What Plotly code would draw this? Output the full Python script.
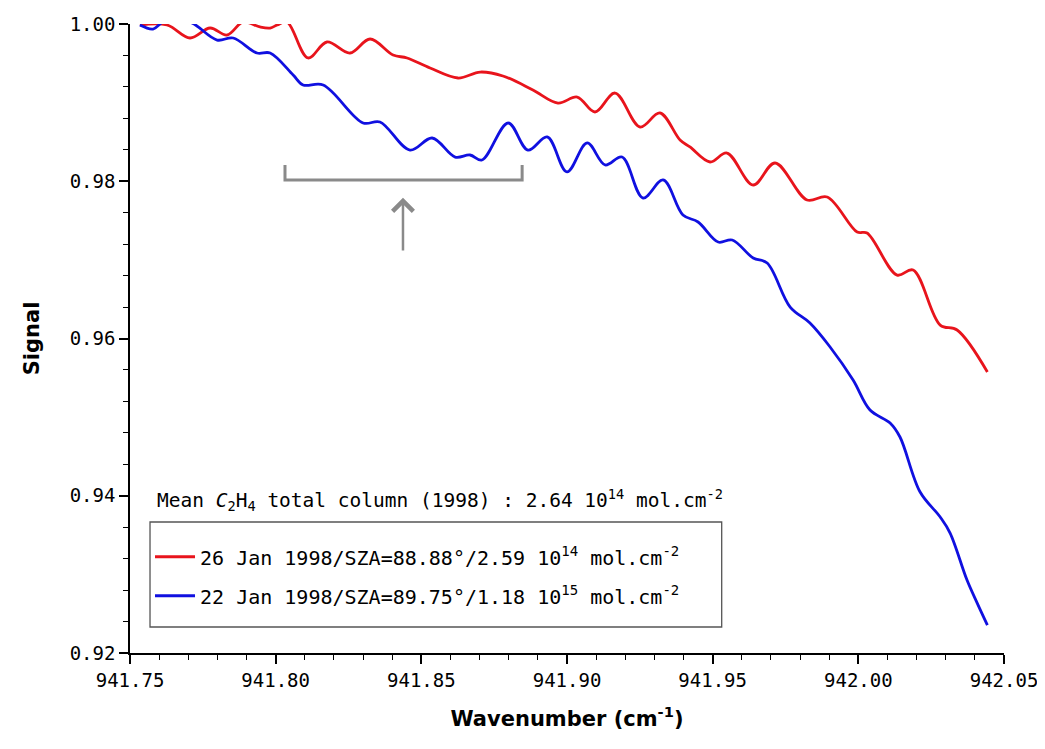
import plotly.graph_objects as go

# ---- data ----
red_x = [941.7534, 941.7627, 941.7706, 941.7775, 941.7833, 941.7888, 941.7946, 941.7981,
         941.8005, 941.8039, 941.8111, 941.8176, 941.8255, 941.8324, 941.8403, 941.8451,
         941.8530, 941.8626, 941.8702, 941.8780, 941.8883, 941.8969, 941.9035, 941.9096,
         941.9165, 941.9251, 941.9319, 941.9388, 941.9422, 941.9491, 941.9549, 941.9639,
         941.9714, 941.9824, 941.9893, 941.9996, 942.0030, 942.0133, 942.0188, 942.0281,
         942.0339, 942.0443]
red_y = [0.99987, 0.99987, 0.99822, 0.99949, 0.99860, 1.00025, 0.99962, 0.99949,
         0.99987, 1.00025, 0.99568, 0.99771, 0.99631, 0.99809, 0.99606, 0.99568,
         0.99440, 0.99313, 0.99389, 0.99339, 0.99161, 0.98995, 0.99071, 0.98881,
         0.99122, 0.98690, 0.98868, 0.98525, 0.98436, 0.98245, 0.98359, 0.97952,
         0.98232, 0.97761, 0.97800, 0.97354, 0.97342, 0.96807, 0.96871, 0.96171,
         0.96108, 0.95574]

blue_x = [941.7534, 941.7579, 941.7613, 941.7661, 941.7713, 941.7799, 941.7854, 941.7936,
          941.7981, 941.8060, 941.8094, 941.8163, 941.8300, 941.8358, 941.8461, 941.8537,
          941.8616, 941.8667, 941.8708, 941.8798, 941.8866, 941.8932, 941.9000, 941.9069,
          941.9131, 941.9189, 941.9261, 941.9330, 941.9398, 941.9450, 941.9519, 941.9567,
          941.9639, 941.9687, 941.9766, 941.9834, 941.9903, 941.9982, 942.0040, 942.0109,
          942.0143, 942.0212, 942.0281, 942.0315, 942.0373, 942.0408, 942.0443]
blue_y = [0.99987, 0.99936, 1.00025, 1.00051, 1.00013, 0.99796, 0.99822, 0.99631,
          0.99631, 0.99351, 0.99224, 0.99224, 0.98741, 0.98754, 0.98397, 0.98550,
          0.98308, 0.98334, 0.98270, 0.98741, 0.98397, 0.98563, 0.98118, 0.98487,
          0.98207, 0.98308, 0.97787, 0.98016, 0.97571, 0.97482, 0.97227, 0.97253,
          0.97024, 0.96960, 0.96400, 0.96197, 0.95892, 0.95472, 0.95090, 0.94925,
          0.94747, 0.94047, 0.93729, 0.93526, 0.92928, 0.92635, 0.92355]

red_name = "26 Jan 1998/SZA=88.88°/2.59 10<sup>14</sup> mol.cm<sup>-2</sup>"
blue_name = "22 Jan 1998/SZA=89.75°/1.18 10<sup>15</sup> mol.cm<sup>-2</sup>"
note_text = ("Mean <i>C</i><sub>2</sub>H<sub>4</sub> total column (1998) : "
             "2.64 10<sup>14</sup> mol.cm<sup>-2</sup>")

# bracket / arrow marking the region (data coords)
bracket_x = [941.8032, 941.8846]
bracket_y = [0.98016, 0.98207]
arrow_x = 941.8437
arrow_y = [0.9710, 0.9779]

x_range = [941.75, 942.05]
y_range = [0.92, 1.00]

FONT = "DejaVu Sans Mono"
TITLE_FONT = "DejaVu Sans"

fig = go.Figure()
fig.add_trace(go.Scatter(x=red_x, y=red_y, mode="lines", name=red_name, legendgroup="a",
                         line=dict(color="#e8141c", width=2.8, shape="spline", smoothing=1.0)))
fig.add_trace(go.Scatter(x=blue_x, y=blue_y, mode="lines", name=blue_name, legendgroup="b",
                         line=dict(color="#1010e0", width=2.8, shape="spline", smoothing=1.0)))

# bracket
fig.add_shape(type="path", xref="x", yref="y",
              path=(f"M {bracket_x[0]} {bracket_y[1]} L {bracket_x[0]} {bracket_y[0]} "
                    f"L {bracket_x[1]} {bracket_y[0]} L {bracket_x[1]} {bracket_y[1]}"),
              line=dict(color="#8a8a8a", width=3))
# arrow
fig.add_annotation(x=arrow_x, y=arrow_y[1], ax=arrow_x, ay=arrow_y[0],
                   xref="x", yref="y", axref="x", ayref="y", text="",
                   showarrow=True, arrowhead=4, arrowsize=1.6, arrowwidth=2.5,
                   arrowcolor="#8a8a8a")

# legend frame
fig.add_shape(type="rect", xref="paper", yref="paper",
              x0=0.0229, x1=0.677, y0=0.0413, y1=0.2083,
              line=dict(color="#555", width=1.3), fillcolor="rgba(0,0,0,0)")

fig.add_annotation(x=0.029, y=0.243, xref="paper", yref="paper", text=note_text,
                   showarrow=False, xanchor="left", yanchor="middle",
                   font=dict(family=FONT, size=19.5, color="black"))

tick_font = dict(color="black", family=FONT, size=19)

# page body has an 8px margin, so the figure is shrunk and margins offset accordingly
fig.update_layout(
    width=1037, height=741,
    margin=dict(l=122, r=41, t=16, b=96),
    paper_bgcolor="white", plot_bgcolor="white",
    font=dict(family=FONT, color="black"),
    showlegend=True,
    legend=dict(x=0.0229, y=0.184, xanchor="left", yanchor="top",
                bgcolor="rgba(0,0,0,0)", borderwidth=0,
                font=dict(family=FONT, size=20, color="black"),
                itemwidth=40, tracegroupgap=10),
    xaxis=dict(range=x_range, dtick=0.05, tick0=941.75, tickformat=".2f",
               ticks="outside", ticklen=9, tickwidth=1.5, tickcolor="black",
               showline=True, linecolor="black", linewidth=1.5, automargin=False,
               showgrid=False, zeroline=False, tickfont=tick_font,
               minor=dict(dtick=0.01, ticks="outside", ticklen=5, tickwidth=1.2,
                          tickcolor="black", showgrid=False),
               title=dict(text="<b>Wavenumber (cm<sup>-1</sup>)</b>",
                          font=dict(family=TITLE_FONT, size=21, color="black"), standoff=22)),
    xaxis3=dict(range=x_range, overlaying="x", side="top", anchor="y",
                dtick=0.05, tick0=941.75, ticks="inside", ticklen=9, tickwidth=1.5,
                tickcolor="black", showticklabels=False, showline=True, automargin=False,
                linecolor="black", linewidth=1.5, showgrid=False, zeroline=False,
                minor=dict(dtick=0.01, ticks="inside", ticklen=5, tickwidth=1.2,
                           tickcolor="black", showgrid=False)),
    yaxis=dict(range=y_range, dtick=0.02, tick0=0.92, tickformat=".2f",
               ticks="outside", ticklen=9, tickwidth=1.5, tickcolor="black",
               showline=True, linecolor="black", linewidth=1.5, automargin=False,
               showgrid=False, zeroline=False, tickfont=tick_font,
               minor=dict(dtick=0.004, ticks="outside", ticklen=5, tickwidth=1.2,
                          tickcolor="black", showgrid=False),
               title=dict(text="<b>Signal</b>",
                          font=dict(family=TITLE_FONT, size=21, color="black"), standoff=24)),
    yaxis3=dict(range=y_range, overlaying="y", side="right", anchor="x",
                dtick=0.02, tick0=0.92, ticks="inside", ticklen=9, tickwidth=1.5,
                tickcolor="black", showticklabels=False, showline=True, automargin=False,
                linecolor="black", linewidth=1.5, showgrid=False, zeroline=False,
                minor=dict(dtick=0.004, ticks="inside", ticklen=5, tickwidth=1.2,
                           tickcolor="black", showgrid=False)),
)

fig.write_html("out.html")
